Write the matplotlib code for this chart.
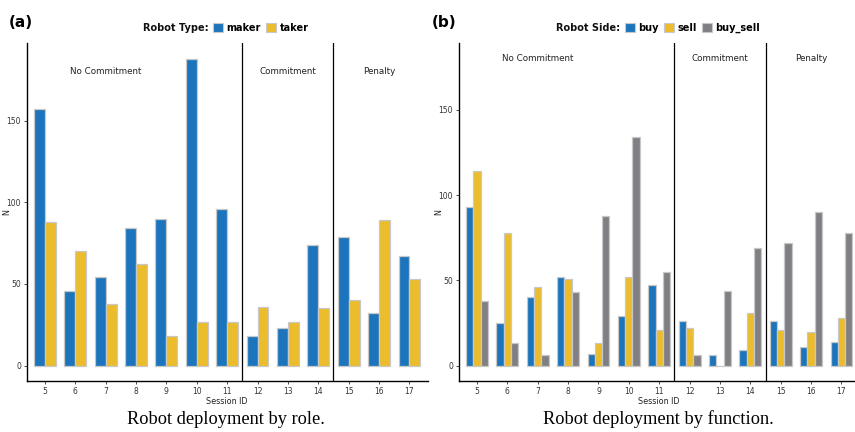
import numpy as np
import matplotlib.pyplot as plt
from matplotlib.patches import Patch

# ---------------------------------------------------------------------------
# Data
# ---------------------------------------------------------------------------
sessions = [5, 6, 7, 8, 9, 10, 11, 12, 13, 14, 15, 16, 17]

maker = [157, 46, 54, 84, 90, 188, 96, 18, 23, 74, 79, 32, 67]
taker = [88, 70, 38, 62, 18, 27, 27, 36, 27, 35, 40, 89, 53]

buy = [93, 25, 40, 52, 7, 29, 47, 26, 6, 9, 26, 11, 14]
sell = [114, 78, 46, 51, 13, 52, 21, 22, 0, 31, 21, 20, 28]
buy_sell = [38, 13, 6, 43, 88, 134, 55, 6, 44, 69, 72, 90, 78]

regimes = ["No Commitment", "Commitment", "Penalty"]
regime_label_x = [7, 13, 16]
regime_breaks = [11.5, 14.5]
label_y = 180

BLUE = "#1c75bc"
YELLOW = "#ebbd2c"
GREY = "#808084"
EDGE = "#c8c8c8"

W, H = 855, 432


def draw_panel(ax, series, colours, ymax):
    x = np.array(sessions, dtype=float)
    n = len(series)
    total = 0.72
    w = total / n
    for i, (vals, col) in enumerate(zip(series, colours)):
        offs = -total / 2 + w * (i + 0.5)
        ax.bar(x + offs, vals, width=w, color=col, edgecolor=EDGE,
               linewidth=0.9, zorder=2)

    for b in regime_breaks:
        ax.axvline(b, color="black", linewidth=0.9, zorder=3)
    for txt, xp in zip(regimes, regime_label_x):
        ax.text(xp, label_y, txt, ha="center", va="center", fontsize=6.3,
                color="#222222")

    ax.set_xlim(4.4, 17.6)
    ax.set_ylim(-0.05 * ymax, 1.05 * ymax)
    ax.set_xticks(sessions)
    ax.set_xticklabels([str(s) for s in sessions])
    ax.set_yticks([0, 50, 100, 150])
    ax.tick_params(labelsize=5.5, length=2, width=0.6, colors="#333333",
                   pad=2)
    ax.set_xlabel("Session ID", fontsize=5.8, labelpad=1, color="#222222")
    ax.set_ylabel("N", fontsize=5.8, color="#222222")
    ax.yaxis.set_label_coords(-0.038, 0.5)
    for side in ["top", "right"]:
        ax.spines[side].set_visible(False)
    for side in ["left", "bottom"]:
        ax.spines[side].set_linewidth(1.0)
        ax.spines[side].set_color("black")


def add_legend(fig, title, colours, names, title_right_px, keys_left_px, y_px):
    fig.text(title_right_px / W, 1 - y_px / H, title, ha="right", va="center",
             fontsize=7, fontweight="bold", color="#111111")
    handles = [Patch(facecolor=c, edgecolor=EDGE, linewidth=0.8, label=nm)
               for c, nm in zip(colours, names)]
    fig.legend(handles=handles, ncol=len(names), loc="center left",
               bbox_to_anchor=(keys_left_px / W, 1 - y_px / H),
               frameon=False, prop={"size": 7, "weight": "bold"},
               handlelength=1.0, handleheight=1.0, handletextpad=0.4,
               columnspacing=0.5, borderaxespad=0, borderpad=0)


fig = plt.figure(figsize=(8.55, 4.32), dpi=100)

ax1 = fig.add_axes([0.0312, 0.118, 0.469, 0.782])
ax2 = fig.add_axes([0.5365, 0.118, 0.469, 0.782])

draw_panel(ax1, [maker, taker], [BLUE, YELLOW], max(maker))
draw_panel(ax2, [buy, sell, buy_sell], [BLUE, YELLOW, GREY], label_y)

add_legend(fig, "Robot Type:", [BLUE, YELLOW], ["maker", "taker"],
           209, 213, 28)
add_legend(fig, "Robot Side:", [BLUE, YELLOW, GREY],
           ["buy", "sell", "buy_sell"], 620, 625, 28)

fig.text(0.010, 0.947, "(a)", fontsize=11, fontweight="bold", va="center")
fig.text(0.505, 0.947, "(b)", fontsize=11, fontweight="bold", va="center")

fig.text(0.264, 0.018, "Robot deployment by role.", ha="center",
         fontsize=13.2, family="Liberation Serif")
fig.text(0.770, 0.018, "Robot deployment by function.", ha="center",
         fontsize=13.2, family="Liberation Serif")

fig.savefig("out.png", dpi=100)
